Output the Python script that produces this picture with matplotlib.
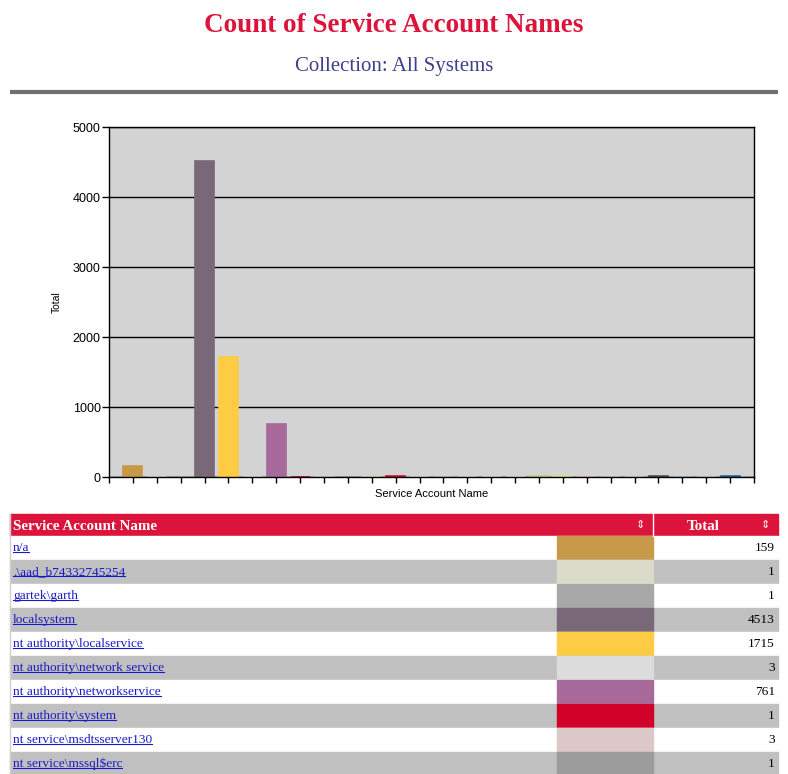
import matplotlib.pyplot as plt
from matplotlib.patches import Rectangle
from matplotlib.lines import Line2D

# 数据
names = ['n/a', '.\\aad_b74332745254', 'gartek\\garth', 'localsystem',
         'nt authority\\localservice', 'nt authority\\network service',
         'nt authority\\networkservice', 'nt authority\\system',
         'nt service\\msdtsserver130', 'nt service\\mssql$erc',
         'nt service\\mssqlfdlauncher', 'nt service\\mssqlserver',
         'nt service\\mssqlserverolapservice', 'nt service\\reportserver',
         'nt service\\sqlagent$erc', 'nt service\\sqlserveragent',
         'nt service\\sqltelemetry', 'nt service\\ssastelemetry',
         'nt service\\ssistelemetry130', 'nt service\\mssqllaunchpad',
         'nt service\\msdtsserver140', 'nt service\\sqlwriter',
         'localservice', 'networkservice', 'nt service\\pbirs', 'system']
totals = [159, 1, 1, 4513, 1715, 3, 761, 1, 3, 1,
          2, 18, 1, 2, 6, 1, 3, 9, 12, 5, 1, 2, 15, 7, 1, 14]
colors = ['#C9994A', '#DADBC9', '#A8A8A8', '#786878', '#FECB45', '#DCDCDC',
          '#A86A9A', '#D0022A', '#DCC8C8', '#9C9C9C',
          '#E8D8B0', '#C8102E', '#D8D8E8', '#C8C8C8', '#D6E4B4', '#E0E0D0',
          '#F0E0E8', '#B4D090', '#D8E088', '#E8B8C8', '#C8D0D8', '#D0D8C8',
          '#505050', '#A0C8E0', '#D8D0D8', '#2F5F8F']
n_rows_shown = 10

W, H = 788, 774
fig = plt.figure(figsize=(W / 100, H / 100), dpi=100)

# 页面层（像素坐标）
page = fig.add_axes([0, 0, 1, 1])
page.set_xlim(0, W)
page.set_ylim(H, 0)
page.axis('off')

page.text(W / 2, 25, 'Count of Service Account Names', ha='center', va='center',
          fontsize=19.5, fontweight='bold', color='#DC143C', family='Liberation Serif')
page.text(W / 2, 67, 'Collection: All Systems', ha='center', va='center',
          fontsize=15, color='#3F3F8F', family='Liberation Serif')
page.plot([10, 778], [92, 92], color='#707070', lw=3, solid_capstyle='butt')

# 柱状图
ax = fig.add_axes([109 / W, 1 - 477 / H, (754 - 109) / W, (477 - 127) / H])
ax.set_facecolor('#D3D3D3')
pos = list(range(1, len(totals) + 1))
ax.bar(pos, totals, width=0.8, color=colors, edgecolor=colors, linewidth=1.2)
ax.set_xlim(0, len(totals) + 1)
ax.set_ylim(0, 5000)
ax.set_xticks(range(0, len(totals) + 2))
ax.set_xticklabels([])
ax.set_yticks([0, 1000, 2000, 3000, 4000, 5000])
ax.tick_params(axis='y', length=5, width=1, labelsize=9, pad=1)
ax.tick_params(axis='x', length=4, width=1)
for lab in ax.get_yticklabels():
    lab.set_family('Liberation Sans')
ax.yaxis.grid(True, color='black', lw=1)
ax.set_axisbelow(True)
for s in ax.spines.values():
    s.set_color('black')
    s.set_linewidth(1)
ax.set_ylabel('Total', fontsize=7.5, family='Liberation Sans', labelpad=8)
ax.set_xlabel('Service Account Name', fontsize=8, family='Liberation Sans', labelpad=1)

# 表格
x0, x_sw, x_tot, x1 = 10, 557, 653, 778
top, head_h, row_h = 514, 22, 24
page.add_patch(Rectangle((x0, top), x1 - x0, head_h, color='#DC143C'))
page.plot([x_tot, x_tot], [top, top + head_h], color='white', lw=1)
page.text(13, top + head_h / 2 + 1, 'Service Account Name', ha='left', va='center',
          fontsize=10.8, fontweight='bold', color='white', family='Liberation Serif')
page.text(703, top + head_h / 2 + 1, 'Total', ha='center', va='center',
          fontsize=10.8, fontweight='bold', color='white', family='Liberation Serif')
for sx in (640, 765):
    page.text(sx, top + head_h / 2, '⇕', ha='center', va='center',
              fontsize=8, color='white', family='DejaVu Sans')

links = []
for i in range(n_rows_shown):
    y = top + head_h + i * row_h
    bg = '#C0C0C0' if i % 2 == 1 else 'white'
    page.add_patch(Rectangle((x0, y), x1 - x0, row_h, color=bg))
    page.add_patch(Rectangle((x_sw, y), x_tot - x_sw, row_h, color=colors[i]))
    t = page.text(13, y + row_h / 2, names[i], ha='left', va='center',
                  fontsize=9.6, color='#1A1AC8', family='Liberation Serif')
    links.append(t)
    page.text(775, y + row_h / 2, str(totals[i]), ha='right', va='center',
              fontsize=9.6, color='black', family='Liberation Serif')
page.plot([x0, x0], [top, H], color='#D0D0D0', lw=1)

# 链接下划线
fig.canvas.draw()
inv = page.transData.inverted()
for t in links:
    bb = t.get_window_extent()
    (xa, ya), (xb, yb) = inv.transform([(bb.x0, bb.y0), (bb.x1, bb.y1)])
    yy = ya - 2
    page.add_line(Line2D([xa, xb], [yy, yy], color='#1A1AC8', lw=0.8))

fig.savefig('out.png', dpi=100)
